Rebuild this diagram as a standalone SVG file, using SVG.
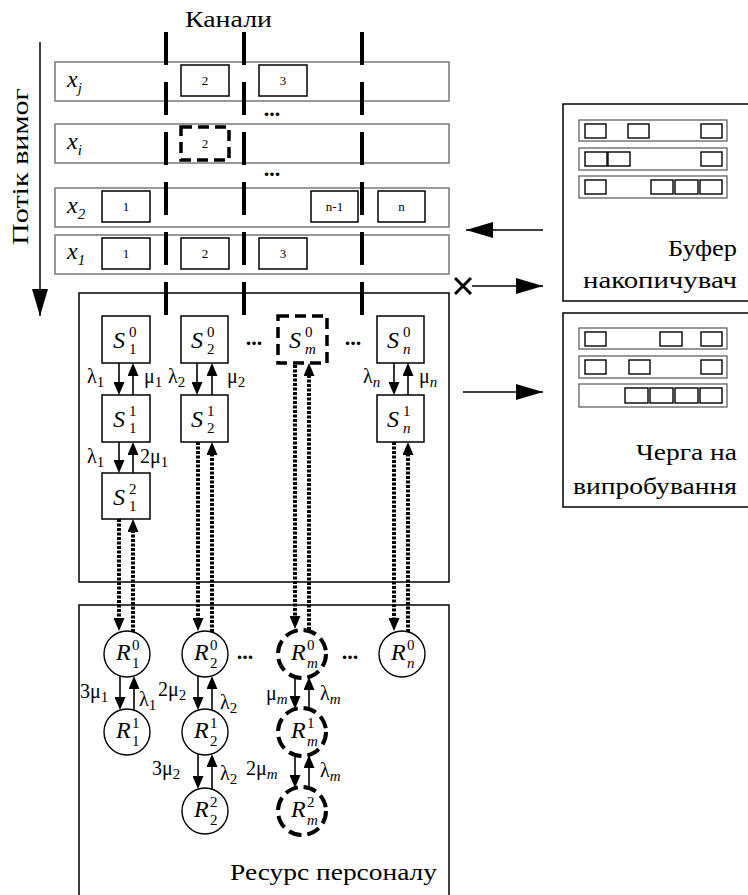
<svg xmlns="http://www.w3.org/2000/svg" width="748" height="895" viewBox="0 0 748 895">
<style>
text { font-family: "Liberation Serif", "DejaVu Serif", "Noto Serif", "Tinos", "FreeSerif", "Noto Serif CJK SC", "Times New Roman", serif; fill: #000; }
.title { font-size: 23px; }
.row { fill: #fff; stroke: #6e6e6e; stroke-width: 1.4; }
.box { fill: #fff; stroke: #000; stroke-width: 1.5; }
.dbox { fill: #fff; stroke: #000; stroke-width: 3.5; stroke-dasharray: 11 6; }
.num { font-size: 13px; text-anchor: middle; }
.chan { stroke: #000; stroke-width: 4; stroke-dasharray: 33 17; fill: none; }
.frame { fill: none; stroke: #000; stroke-width: 1.5; }
.node { fill: #fff; stroke: #000; stroke-width: 1.4; }
.dnode { fill: #fff; stroke: #000; stroke-width: 4; stroke-dasharray: 13 6; }
.ar { stroke: #000; stroke-width: 1.6; fill: none; marker-end: url(#sh); }
.dot { stroke: #000; stroke-width: 4; stroke-dasharray: 3 1.5; fill: none; marker-end: url(#sh); }
.big { stroke: #000; stroke-width: 1.5; fill: none; marker-end: url(#bh); }
.xl { font-size: 24px; font-style: italic; }
.nl { font-size: 24px; font-style: italic; }
.sc { font-size: 15px; }
.sci { font-size: 15px; font-style: italic; }
.gl { font-size: 20px; }
.dots { font-size: 22px; font-weight: bold; text-anchor: middle; }
.q { fill: #fff; stroke: #000; stroke-width: 1.4; }
.qr { fill: #fff; stroke: #555; stroke-width: 1.2; }
</style>
<defs>
  <marker id="sh" viewBox="0 0 13 11" refX="0" refY="5.5" markerWidth="13" markerHeight="11" markerUnits="userSpaceOnUse" orient="auto">
    <path d="M0,0 L13,5.5 L0,11 z" fill="#000"/>
  </marker>
  <marker id="bh" viewBox="0 0 27 16" refX="27" refY="8" markerWidth="27" markerHeight="16" markerUnits="userSpaceOnUse" orient="auto">
    <path d="M0,0 L27,8 L0,16 z" fill="#000"/>
  </marker>
</defs>

<!-- headings -->
<text class="title" x="185" y="27" textLength="87" lengthAdjust="spacingAndGlyphs">Канали</text>
<text class="title" transform="translate(28,245) rotate(-90)" textLength="157" lengthAdjust="spacingAndGlyphs">Потік вимог</text>
<line x1="40" y1="42" x2="40" y2="316" class="big"/>

<!-- request rows -->
<g id="row-xj">
  <rect class="row" x="55" y="62" width="394" height="39"/>
  <text class="xl" x="67" y="87">x<tspan class="sci" dy="6">j</tspan></text>
  <rect class="box" x="181" y="65" width="48" height="31"/><text class="num" x="205" y="85">2</text>
  <rect class="box" x="259" y="65" width="48" height="31"/><text class="num" x="283" y="85">3</text>
</g>
<text class="dots" x="272" y="116">...</text>
<g id="row-xi">
  <rect class="row" x="55" y="124" width="394" height="39"/>
  <text class="xl" x="67" y="149">x<tspan class="sci" dy="6">i</tspan></text>
  <rect class="dbox" x="181" y="127" width="48" height="33"/><text class="num" x="205" y="148">2</text>
</g>
<text class="dots" x="272" y="176">...</text>
<g id="row-x2">
  <rect class="row" x="55" y="188" width="394" height="39"/>
  <text class="xl" x="67" y="213">x<tspan class="sc" dy="6">2</tspan></text>
  <rect class="box" x="102" y="191" width="48" height="31"/><text class="num" x="126" y="211">1</text>
  <rect class="box" x="311" y="191" width="47" height="31"/><text class="num" x="334.5" y="211">n-1</text>
  <rect class="box" x="378" y="191" width="47" height="31"/><text class="num" x="401.5" y="211">n</text>
</g>
<g id="row-x1">
  <rect class="row" x="55" y="235" width="394" height="39"/>
  <text class="xl" x="67" y="259">x<tspan class="sc" dy="6">1</tspan></text>
  <rect class="box" x="102" y="238" width="48" height="31"/><text class="num" x="126" y="258">1</text>
  <rect class="box" x="181" y="238" width="48" height="31"/><text class="num" x="205" y="258">2</text>
  <rect class="box" x="259" y="238" width="48" height="31"/><text class="num" x="283" y="258">3</text>
</g>

<!-- state area frame -->
<rect class="frame" x="79" y="293" width="370" height="289"/>
<!-- personnel area frame -->
<rect class="frame" x="79" y="605" width="370" height="300"/>
<text class="title" x="230" y="880" textLength="207" lengthAdjust="spacingAndGlyphs">Ресурс персоналу</text>

<!-- channel separators -->
<g id="channels">
  <line class="chan" x1="166" y1="32" x2="166" y2="315"/>
  <line class="chan" x1="244" y1="32" x2="244" y2="315"/>
  <line class="chan" x1="362" y1="32" x2="362" y2="315"/>
</g>

<!-- buffer -->
<g id="buffer">
  <rect class="frame" x="563" y="104" width="200" height="197"/>
  <rect class="qr" x="579" y="120" width="148" height="21"/>
  <rect class="qr" x="579" y="148" width="148" height="22"/>
  <rect class="qr" x="579" y="176" width="148" height="22"/>
  <rect class="q" x="585" y="124" width="21" height="14"/>
  <rect class="q" x="628" y="124" width="21" height="14"/>
  <rect class="q" x="701" y="124" width="21" height="14"/>
  <rect class="q" x="585" y="152" width="22" height="14"/>
  <rect class="q" x="608" y="152" width="22" height="14"/>
  <rect class="q" x="701" y="152" width="21" height="14"/>
  <rect class="q" x="585" y="180" width="21" height="14"/>
  <rect class="q" x="651" y="180" width="22" height="14"/>
  <rect class="q" x="675" y="180" width="23" height="14"/>
  <rect class="q" x="700" y="180" width="22" height="14"/>
  <text class="title" x="668" y="256" textLength="69" lengthAdjust="spacingAndGlyphs">Буфер</text>
  <text class="title" x="583" y="288" textLength="154" lengthAdjust="spacingAndGlyphs">накопичувач</text>
</g>

<!-- test queue -->
<g id="queue">
  <rect class="frame" x="563" y="313" width="200" height="194"/>
  <rect class="qr" x="579" y="328" width="148" height="21"/>
  <rect class="qr" x="579" y="356" width="148" height="22"/>
  <rect class="qr" x="579" y="384" width="148" height="23"/>
  <rect class="q" x="585" y="332" width="21" height="14"/>
  <rect class="q" x="660" y="332" width="22" height="14"/>
  <rect class="q" x="701" y="332" width="21" height="14"/>
  <rect class="q" x="585" y="360" width="21" height="14"/>
  <rect class="q" x="629" y="360" width="21" height="14"/>
  <rect class="q" x="701" y="360" width="21" height="14"/>
  <rect class="q" x="625" y="388" width="23" height="15"/>
  <rect class="q" x="650" y="388" width="23" height="15"/>
  <rect class="q" x="675" y="388" width="23" height="15"/>
  <rect class="q" x="700" y="388" width="22" height="15"/>
  <text class="title" x="636" y="460" textLength="101" lengthAdjust="spacingAndGlyphs">Черга на</text>
  <text class="title" x="573" y="494" textLength="164" lengthAdjust="spacingAndGlyphs">випробування</text>
</g>

<!-- state nodes -->
<g id="S1-0"><rect class="box" x="102" y="316" width="48" height="47"/>
  <text class="nl" x="113" y="348">S</text><text class="sc" x="129" y="337">0</text><text class="sc" x="129" y="354">1</text></g>
<g id="S1-1"><rect class="box" x="102" y="395" width="48" height="47"/>
  <text class="nl" x="113" y="427">S</text><text class="sc" x="129" y="416">1</text><text class="sc" x="129" y="433">1</text></g>
<g id="S1-2"><rect class="box" x="102" y="473" width="48" height="46"/>
  <text class="nl" x="113" y="505">S</text><text class="sc" x="129" y="494">2</text><text class="sc" x="129" y="511">1</text></g>
<g id="S2-0"><rect class="box" x="181" y="316" width="47" height="47"/>
  <text class="nl" x="191" y="348">S</text><text class="sc" x="207" y="337">0</text><text class="sc" x="207" y="354">2</text></g>
<g id="S2-1"><rect class="box" x="181" y="395" width="47" height="47"/>
  <text class="nl" x="191" y="427">S</text><text class="sc" x="207" y="416">1</text><text class="sc" x="207" y="433">2</text></g>
<g id="Sm-0"><rect class="dbox" x="278" y="316" width="49" height="47"/>
  <text class="nl" x="289" y="348">S</text><text class="sc" x="305" y="337">0</text><text class="sci" x="305" y="354">m</text></g>
<g id="Sn-0"><rect class="box" x="377" y="316" width="47" height="47"/>
  <text class="nl" x="387" y="348">S</text><text class="sc" x="403" y="337">0</text><text class="sci" x="403" y="354">n</text></g>
<g id="Sn-1"><rect class="box" x="377" y="395" width="47" height="47"/>
  <text class="nl" x="387" y="427">S</text><text class="sc" x="403" y="416">1</text><text class="sci" x="403" y="433">n</text></g>
<text class="dots" x="254" y="345">...</text>
<text class="dots" x="353" y="345">...</text>

<!-- personnel nodes -->
<g id="R1-0"><circle class="node" cx="127" cy="654" r="23"/>
  <text class="nl" x="116" y="660">R</text><text class="sc" x="132" y="650">0</text><text class="sc" x="132" y="668">1</text></g>
<g id="R1-1"><circle class="node" cx="127" cy="732" r="23"/>
  <text class="nl" x="116" y="738">R</text><text class="sc" x="132" y="728">1</text><text class="sc" x="132" y="746">1</text></g>
<g id="R2-0"><circle class="node" cx="205" cy="654" r="23"/>
  <text class="nl" x="194" y="660">R</text><text class="sc" x="210" y="650">0</text><text class="sc" x="210" y="668">2</text></g>
<g id="R2-1"><circle class="node" cx="205" cy="732" r="23"/>
  <text class="nl" x="194" y="738">R</text><text class="sc" x="210" y="728">1</text><text class="sc" x="210" y="746">2</text></g>
<g id="R2-2"><circle class="node" cx="205" cy="811" r="23"/>
  <text class="nl" x="194" y="817">R</text><text class="sc" x="210" y="807">2</text><text class="sc" x="210" y="825">2</text></g>
<g id="Rm-0"><circle class="dnode" cx="302" cy="654" r="24"/>
  <text class="nl" x="291" y="660">R</text><text class="sc" x="307" y="650">0</text><text class="sci" x="307" y="668">m</text></g>
<g id="Rm-1"><circle class="dnode" cx="302" cy="732" r="24"/>
  <text class="nl" x="291" y="738">R</text><text class="sc" x="307" y="728">1</text><text class="sci" x="307" y="746">m</text></g>
<g id="Rm-2"><circle class="dnode" cx="302" cy="811" r="24"/>
  <text class="nl" x="291" y="817">R</text><text class="sc" x="307" y="807">2</text><text class="sci" x="307" y="825">m</text></g>
<g id="Rn-0"><circle class="node" cx="402" cy="654" r="23"/>
  <text class="nl" x="391" y="660">R</text><text class="sc" x="407" y="650">0</text><text class="sci" x="407" y="668">n</text></g>
<text class="dots" x="245" y="659">...</text>
<text class="dots" x="350" y="659">...</text>

<!-- connectors -->
<g id="connectors">
  <!-- state transitions -->
  <line class="ar" x1="119" y1="363" x2="119" y2="382"/>
  <line class="ar" x1="133" y1="395" x2="133" y2="376"/>
  <line class="ar" x1="119" y1="442" x2="119" y2="460"/>
  <line class="ar" x1="133" y1="473" x2="133" y2="455"/>
  <line class="ar" x1="197" y1="363" x2="197" y2="382"/>
  <line class="ar" x1="212" y1="395" x2="212" y2="376"/>
  <line class="ar" x1="394" y1="363" x2="394" y2="382"/>
  <line class="ar" x1="408" y1="395" x2="408" y2="376"/>
  <!-- state / personnel links -->
  <line class="dot" x1="119" y1="519" x2="119" y2="618"/>
  <line class="dot" x1="133" y1="632" x2="133" y2="532"/>
  <line class="dot" x1="198" y1="442" x2="198" y2="618"/>
  <line class="dot" x1="212" y1="632" x2="212" y2="455"/>
  <line class="dot" x1="295" y1="365" x2="295" y2="616"/>
  <line class="dot" x1="309" y1="630" x2="309" y2="376"/>
  <line class="dot" x1="394" y1="442" x2="394" y2="618"/>
  <line class="dot" x1="408" y1="632" x2="408" y2="455"/>
  <!-- personnel transitions -->
  <line class="ar" x1="120" y1="676" x2="120" y2="697"/>
  <line class="ar" x1="134" y1="710" x2="134" y2="689"/>
  <line class="ar" x1="198" y1="676" x2="198" y2="697"/>
  <line class="ar" x1="212" y1="710" x2="212" y2="689"/>
  <line class="ar" x1="198" y1="754" x2="198" y2="776"/>
  <line class="ar" x1="212" y1="789" x2="212" y2="767"/>
  <line class="ar" x1="295" y1="678" x2="295" y2="696"/>
  <line class="ar" x1="309" y1="709" x2="309" y2="690"/>
  <line class="ar" x1="295" y1="756" x2="295" y2="775"/>
  <line class="ar" x1="309" y1="787" x2="309" y2="768"/>
  <!-- buffer / queue links -->
  <line class="big" x1="543" y1="230" x2="466" y2="230"/>
  <path d="M455,278 L471,294 M455,294 L471,278" stroke="#000" stroke-width="3" fill="none"/>
  <line class="big" x1="472" y1="286" x2="543" y2="286"/>
  <line class="big" x1="463" y1="392" x2="543" y2="392"/>
</g>

<!-- rate labels -->
<g id="rates">
  <text class="gl" x="87" y="383">λ<tspan class="sc" dy="4">1</tspan></text>
  <text class="gl" x="144" y="383">μ<tspan class="sc" dy="4">1</tspan></text>
  <text class="gl" x="168" y="383">λ<tspan class="sc" dy="4">2</tspan></text>
  <text class="gl" x="227" y="383">μ<tspan class="sc" dy="4">2</tspan></text>
  <text class="gl" x="363" y="383">λ<tspan class="sci" dy="4">n</tspan></text>
  <text class="gl" x="419" y="383">μ<tspan class="sci" dy="4">n</tspan></text>
  <text class="gl" x="87" y="463">λ<tspan class="sc" dy="4">1</tspan></text>
  <text class="gl" x="140" y="463">2μ<tspan class="sc" dy="4">1</tspan></text>
  <text class="gl" x="80" y="698">3μ<tspan class="sc" dy="4">1</tspan></text>
  <text class="gl" x="139" y="706">λ<tspan class="sc" dy="4">1</tspan></text>
  <text class="gl" x="158" y="696">2μ<tspan class="sc" dy="4">2</tspan></text>
  <text class="gl" x="220" y="709">λ<tspan class="sc" dy="4">2</tspan></text>
  <text class="gl" x="266" y="700">μ<tspan class="sci" dy="4">m</tspan></text>
  <text class="gl" x="320" y="700">λ<tspan class="sci" dy="4">m</tspan></text>
  <text class="gl" x="152" y="775">3μ<tspan class="sc" dy="4">2</tspan></text>
  <text class="gl" x="220" y="780">λ<tspan class="sc" dy="4">2</tspan></text>
  <text class="gl" x="246" y="775">2μ<tspan class="sci" dy="4">m</tspan></text>
  <text class="gl" x="320" y="777">λ<tspan class="sci" dy="4">m</tspan></text>
</g>
</svg>
